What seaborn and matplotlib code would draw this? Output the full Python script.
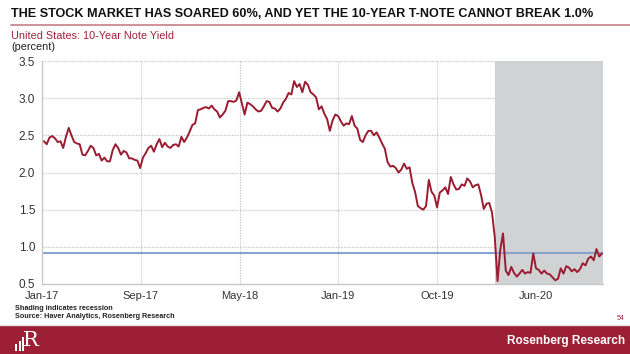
"""
Rosenberg Research chart — US 10-year Treasury note yield, Jan-17 to Nov-20.
Weekly (Friday) closes read off the source chart.
"""

import matplotlib
matplotlib.use("Agg")

import matplotlib.pyplot as plt
from matplotlib.patches import Rectangle
import numpy as np
import pandas as pd
import seaborn as sns

TITLE    = "THE STOCK MARKET HAS SOARED 60%, AND YET THE 10-YEAR T-NOTE CANNOT BREAK 1.0%"
SUBTITLE = "United States: 10-Year Note Yield"
UNIT     = "(percent)"
NOTE     = "Shading indicates recession"
SOURCE   = "Source: Haver Analytics, Rosenberg Research"
BRAND    = "Rosenberg Research"
PAGE     = "54"

FIRST_FRIDAY = "2017-01-06"

yields_2017 = [2.42, 2.38, 2.47, 2.49,
               2.46, 2.41, 2.42, 2.33,
               2.48, 2.60, 2.50, 2.41, 2.39,
               2.38, 2.24, 2.23, 2.29,
               2.36, 2.33, 2.23, 2.25,
               2.16, 2.20, 2.15, 2.15, 2.30,
               2.38, 2.33, 2.24, 2.29,
               2.27, 2.19, 2.19, 2.17,
               2.16, 2.06, 2.20, 2.26, 2.33,
               2.36, 2.28, 2.38, 2.45,
               2.34, 2.40, 2.35, 2.33,
               2.37, 2.38, 2.35, 2.48, 2.41]

yields_2018 = [2.47, 2.55, 2.64, 2.66,
               2.84, 2.85, 2.87, 2.88,
               2.86, 2.90, 2.85, 2.82, 2.74,
               2.78, 2.83, 2.96, 2.96,
               2.95, 2.97, 3.08, 2.93,
               2.78, 2.94, 2.92, 2.89, 2.85,
               2.82, 2.83, 2.89, 2.96,
               2.95, 2.87, 2.86, 2.82, 2.86,
               2.94, 2.99, 3.07, 3.05,
               3.23, 3.15, 3.19, 3.08,
               3.22, 3.18, 3.08, 3.05, 3.01,
               2.85, 2.89, 2.79, 2.72]

yields_2019 = [2.56, 2.70, 2.78, 2.76,
               2.69, 2.63, 2.66, 2.65,
               2.76, 2.63, 2.59, 2.44, 2.41,
               2.50, 2.56, 2.56, 2.50,
               2.54, 2.47, 2.39, 2.32, 2.14,
               2.08, 2.09, 2.06, 2.00,
               2.04, 2.12, 2.05, 2.07,
               1.86, 1.74, 1.55, 1.52, 1.50,
               1.55, 1.90, 1.74, 1.69,
               1.53, 1.73, 1.76, 1.80,
               1.71, 1.94, 1.84, 1.77, 1.78,
               1.84, 1.82, 1.92, 1.88]

yields_2020 = [1.80, 1.83, 1.84, 1.70, 1.51,
               1.58, 1.59, 1.46, 1.13,
               0.54, 0.96, 1.18, 0.68,
               0.62, 0.73, 0.65, 0.60,
               0.64, 0.69, 0.64, 0.66, 0.65,
               0.91, 0.71, 0.69, 0.64,
               0.68, 0.64, 0.63, 0.59, 0.55,
               0.57, 0.71, 0.64, 0.74,
               0.72, 0.67, 0.70, 0.66,
               0.70, 0.78, 0.75, 0.84, 0.87,
               0.82, 0.97, 0.87, 0.91]

RECESSION_START = "2020-02-28"
REFERENCE_LEVEL = 0.92          # horizontal marker line

X_TICK_LABELS = ["Jan-17", "Sep-17", "May-18", "Jan-19", "Oct-19", "Jun-20"]
Y_TICKS       = [0.5, 1.0, 1.5, 2.0, 2.5, 3.0, 3.5]

RED    = "#9b1b30"
BLUE   = "#88a3cf"
SHADE  = "#d1d2d4"
GRID   = "#c6c6c6"
AXIS   = "#c8c8c8"
FOOTER = "#9c1f35"
RULE   = "#c98891"

sns.set_style("white")
plt.rcParams["font.family"] = ["Liberation Sans", "DejaVu Sans"]

W, H = 630, 354


def px(x, y):
    """pixel position (from top-left) -> figure fraction"""
    return x / W, 1 - y / H


# ---------------------------------------------------------------------------
# Data
# ---------------------------------------------------------------------------

yields = yields_2017 + yields_2018 + yields_2019 + yields_2020
df = pd.DataFrame({
    "date": pd.date_range(FIRST_FRIDAY, periods=len(yields), freq="W-FRI"),
    "yield": yields,
})

x0 = pd.Timestamp("2017-01-01")
tick_step = pd.Timedelta(days=251.6)
tick_dates = [x0 + i * tick_step for i in range(len(X_TICK_LABELS))]
x1 = x0 + pd.Timedelta(days=1428.6)

# ---------------------------------------------------------------------------
# Figure
# ---------------------------------------------------------------------------

fig = plt.figure(figsize=(W / 100, H / 100), dpi=100)
l, b = px(42, 284)
r, t = px(603, 61)
ax = fig.add_axes([l, b, r - l, t - b])

ax.axvspan(pd.Timestamp(RECESSION_START), x1, color=SHADE, lw=0, zorder=1)
ax.axhline(REFERENCE_LEVEL, color=BLUE, lw=1.5, zorder=2)
sns.lineplot(data=df, x="date", y="yield", ax=ax, color=RED, lw=1.4, zorder=3)

ax.set_xlim(x0, x1)
ax.set_ylim(0.5, 3.5)
ax.set_xticks(tick_dates)
ax.set_xticklabels(X_TICK_LABELS)
ax.set_yticks(Y_TICKS)
ax.set_yticklabels([f"{v:.1f}" for v in Y_TICKS])
ax.set_xlabel("")
ax.set_ylabel("")

for v in Y_TICKS[1:]:
    ax.axhline(v, color=GRID, lw=0.8, ls=(0, (1.2, 1.2)), zorder=0)
for d in tick_dates[1:]:
    ax.axvline(d, color=GRID, lw=0.8, ls=(0, (1.2, 1.2)), zorder=0)

for side in ["top", "right"]:
    ax.spines[side].set_visible(False)
for side in ["left", "bottom"]:
    ax.spines[side].set_color(AXIS)
    ax.spines[side].set_linewidth(1.0)
ax.tick_params(axis="y", length=3, width=0.8, color=AXIS,
               labelsize=8.5, labelcolor="#333333", pad=2)
ax.tick_params(axis="x", length=3, width=0.8, color=AXIS,
               labelsize=8, labelcolor="#333333", pad=2)

# header
fig.text(*px(11, 14), TITLE, fontsize=9.1, fontweight="bold", color="#111111", va="center")
fig.add_artist(plt.Line2D([11 / W, 1], [1 - 25 / H] * 2, color=RULE, lw=1.3))
fig.text(*px(11, 36), SUBTITLE, fontsize=7.8, color="#a0223a", va="center")
fig.text(*px(11, 47.5), UNIT, fontsize=7.8, color="#222222", va="center")

# notes
fig.text(*px(15, 308), NOTE, fontsize=5.2, fontweight="bold", color="#222222", va="center")
fig.text(*px(15, 317), SOURCE, fontsize=5.2, fontweight="bold", color="#222222", va="center")
fig.text(*px(621, 318), PAGE, fontsize=5, color="#a0223a", va="center", ha="center")

# footer band with logo
fig.add_artist(plt.Line2D([0, 1], [1 - 325 / H] * 2, color="#e2e2e2", lw=1.0))
fig.add_artist(Rectangle((0, 0), 1, 1 - 326 / H, transform=fig.transFigure,
                         color=FOOTER, lw=0))
for bx, bh in [(15, 7), (18.5, 10), (22, 14)]:
    fig.add_artist(Rectangle(px(bx, 351), 2 / W, bh / H, transform=fig.transFigure,
                             color="white", lw=0))
fig.text(*px(31, 341), "R", fontsize=15, color="white", family="DejaVu Serif",
         va="center", ha="center")
fig.text(*px(625, 341), BRAND, fontsize=8.5, fontweight="bold", color="white",
         va="center", ha="right")

fig.savefig("out.png", dpi=100)
plt.close(fig)
